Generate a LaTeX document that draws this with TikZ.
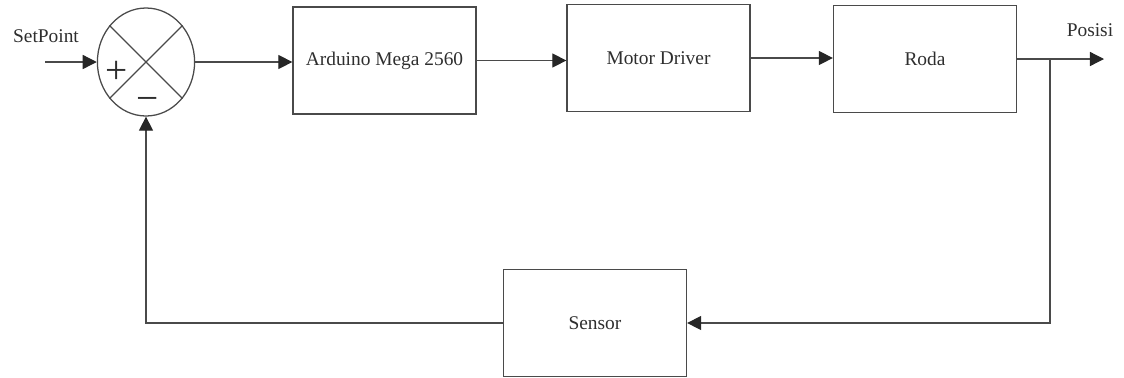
\documentclass[tikz,border=0pt]{standalone}
\usepackage{fontspec}
\setmainfont{Liberation Serif}
\usetikzlibrary{arrows.meta,shapes.geometric}
\definecolor{linegray}{HTML}{4A4A4A}
\definecolor{textgray}{HTML}{2E2E2E}
\tikzset{
  signal/.style={-{Triangle[length=10pt,width=10pt,color=black!85]},linegray,line width=0.9pt},
  wire/.style={linegray,line width=0.9pt},
  blockbox/.style={draw=linegray,line width=0.9pt,minimum width=4.575cm,minimum height=2.675cm,
    text=textgray,font=\fontsize{13.8}{16}\selectfont},
  sumnode/.style={ellipse,draw=linegray,line width=0.9pt,minimum width=2.43cm,minimum height=2.7cm,inner sep=0pt},
  sign/.style={text=textgray,font=\fontsize{28}{30}\selectfont,inner sep=0pt},
  label/.style={text=textgray,font=\fontsize{13.8}{16}\selectfont}
}
\begin{document}
\begin{tikzpicture}
\useasboundingbox (0,0) rectangle (28.1,-9.425);
\node[sumnode] (sum) at (3.65,-1.55) {};
\draw[wire] (sum.45) -- (sum.225);
\draw[wire] (sum.135) -- (sum.315);
\node[sign] (plus) at (2.925,-1.8) {+};
\node[sign] (minus) at (3.7,-2.6) {−};
\node[blockbox] (ard) at (9.6125,-1.5125) {Arduino Mega 2560};
\node[blockbox] (mot) at (16.4625,-1.45) {Motor Driver};
\node[blockbox] (roda) at (23.125,-1.475) {Roda};
\node[blockbox] (sensor) at (14.875,-8.075) {Sensor};
\coordinate (in) at (1.125,-1.55);
\coordinate (out) at (27.6,-1.475);
\coordinate (branch) at (26.25,-1.475);
\node[label] (setpoint) at (1.15,-0.9) {SetPoint};
\node[label] (posisi) at (27.25,-0.75) {Posisi};
% forward path
\draw[signal] (in) -- (sum.west |- in);
\draw[signal] (sum.east |- in) -- (ard.west |- in);
\draw[signal] (ard.east) -- (ard.east -| mot.west);
\draw[signal] (mot.east) -- (mot.east -| roda.west);
\draw[signal] (roda.east) -- (out);
% feedback path
\draw[signal] (branch) |- (sensor.east);
\draw[signal] (sensor.west) -| (sum.south);
\end{tikzpicture}
\end{document}
